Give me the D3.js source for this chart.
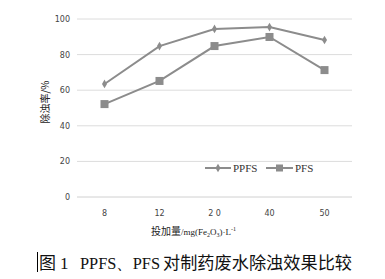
<!DOCTYPE html>
<html lang="zh">
<head>
<meta charset="UTF-8">
<style>
body {margin: 0; background: #fff;}
svg {display: block;}
</style>
</head>
<body>
<div id="chart"></div>
<script src="https://d3js.org/d3.v7.min.js"></script>
<script>
// data
var doses = ["8", "12", "20", "40", "50"];
var doseLabels = ["8", "12", "2 0", "40", "50"];
var ppfs = [63.5, 84.8, 94.4, 95.5, 88.2];
var pfs = [52.2, 65.2, 84.8, 89.9, 71.3];
var yTicks = [0, 20, 40, 60, 80, 100];

var W = 385, H = 279;
var plotL = 77, plotR = 352, plotT = 19, plotB = 197;

var svg = d3.select("#chart").append("svg")
  .attr("width", W).attr("height", H);

var x = d3.scaleBand().domain(doses).range([plotL, plotR]);
var y = d3.scaleLinear().domain([0, 100]).range([plotB, plotT]);

// gridlines
svg.append("g").selectAll("line")
  .data(yTicks)
  .enter().append("line")
  .attr("x1", plotL).attr("x2", plotR)
  .attr("y1", function(d) { return y(d); })
  .attr("y2", function(d) { return y(d); })
  .attr("stroke", function(d) { return d == 0 ? "#d0d0d0" : "#dcdcdc"; })
  .attr("stroke-width", 1);

// y tick labels
svg.append("g").selectAll("text")
  .data(yTicks)
  .enter().append("text")
  .attr("x", 70)
  .attr("y", function(d) { return y(d) + 3; })
  .attr("text-anchor", "end")
  .attr("font-family", "DejaVu Sans, sans-serif")
  .attr("font-size", 8)
  .attr("fill", "#444")
  .text(function(d) { return d; });

// x tick labels
svg.append("g").selectAll("text")
  .data(doses)
  .enter().append("text")
  .attr("x", function(d) { return x(d) + x.bandwidth() / 2; })
  .attr("y", 216)
  .attr("text-anchor", "middle")
  .attr("font-family", "DejaVu Sans, sans-serif")
  .attr("font-size", 8)
  .attr("fill", "#444")
  .text(function(d, i) { return doseLabels[i]; });

var line = d3.line()
  .x(function(d, i) { return x(doses[i]) + x.bandwidth() / 2; })
  .y(function(d) { return y(d); });

var grey = "#8c8c8c";

svg.append("path").datum(ppfs)
  .attr("d", line).attr("fill", "none")
  .attr("stroke", grey).attr("stroke-width", 2);
svg.append("path").datum(pfs)
  .attr("d", line).attr("fill", "none")
  .attr("stroke", grey).attr("stroke-width", 2);

var diamond = d3.symbol().type(d3.symbolDiamond).size(22);
svg.append("g").selectAll("path")
  .data(ppfs)
  .enter().append("path")
  .attr("d", diamond)
  .attr("transform", function(d, i) {
    return "translate(" + (x(doses[i]) + x.bandwidth() / 2) + "," + y(d) + ")";
  })
  .attr("fill", grey);

svg.append("g").selectAll("rect")
  .data(pfs)
  .enter().append("rect")
  .attr("x", function(d, i) { return x(doses[i]) + x.bandwidth() / 2 - 4; })
  .attr("y", function(d) { return y(d) - 4; })
  .attr("width", 8).attr("height", 8)
  .attr("fill", grey);

// legend
var lg = svg.append("g").attr("font-family", "Liberation Serif, serif")
  .attr("font-size", 11).attr("fill", "#333");
lg.append("line").attr("x1", 205).attr("x2", 231).attr("y1", 168).attr("y2", 168)
  .attr("stroke", grey).attr("stroke-width", 2);
lg.append("path").attr("d", diamond).attr("transform", "translate(218,168)").attr("fill", grey);
lg.append("text").attr("x", 233).attr("y", 172).text("PPFS");
lg.append("line").attr("x1", 266).attr("x2", 293).attr("y1", 168).attr("y2", 168)
  .attr("stroke", grey).attr("stroke-width", 2);
lg.append("rect").attr("x", 276).attr("y", 164.5).attr("width", 7).attr("height", 7).attr("fill", grey);
lg.append("text").attr("x", 295).attr("y", 172).text("PFS");

// y title
svg.append("text")
  .attr("transform", "translate(49,102) rotate(-90)")
  .attr("text-anchor", "middle")
  .attr("font-family", "Noto Sans CJK SC, sans-serif")
  .attr("font-size", 10)
  .attr("fill", "#222")
  .text("除浊率/%");

// x title
var xt = svg.append("text")
  .attr("x", 151).attr("y", 235)
  .attr("font-family", "Noto Sans CJK SC, sans-serif")
  .attr("font-size", 10)
  .attr("fill", "#222");
xt.append("tspan").text("投加量");
xt.append("tspan").attr("font-family", "Liberation Serif, serif").attr("font-size", 9).text("/mg(Fe");
xt.append("tspan").attr("font-family", "Liberation Serif, serif").attr("font-size", 6).attr("dy", 2).text("2");
xt.append("tspan").attr("font-family", "Liberation Serif, serif").attr("font-size", 9).attr("dy", -2).text("O");
xt.append("tspan").attr("font-family", "Liberation Serif, serif").attr("font-size", 6).attr("dy", 2).text("3");
xt.append("tspan").attr("font-family", "Liberation Serif, serif").attr("font-size", 9).attr("dy", -2).text(")·L");
xt.append("tspan").attr("font-family", "Liberation Serif, serif").attr("font-size", 6).attr("dy", -4).text("-1");

// caption
svg.append("line").attr("x1", 37.5).attr("x2", 37.5).attr("y1", 252).attr("y2", 272)
  .attr("stroke", "#000").attr("stroke-width", 1);
var cap = svg.append("g").attr("fill", "#111").attr("font-size", 17);
cap.append("text").attr("x", 39).attr("y", 269)
  .attr("font-family", "Noto Sans CJK SC, sans-serif").text("图");
cap.append("text").attr("x", 60).attr("y", 269)
  .attr("font-family", "Liberation Serif, serif").text("1");
cap.append("text").attr("x", 80).attr("y", 269)
  .attr("font-family", "Liberation Serif, serif")
  .attr("textLength", 80).attr("lengthAdjust", "spacingAndGlyphs")
  .text("PPFS、PFS");
cap.append("text").attr("x", 163).attr("y", 269)
  .attr("font-family", "Noto Sans CJK SC, sans-serif")
  .attr("textLength", 189).attr("lengthAdjust", "spacingAndGlyphs")
  .text("对制药废水除浊效果比较");
</script>
</body>
</html>
